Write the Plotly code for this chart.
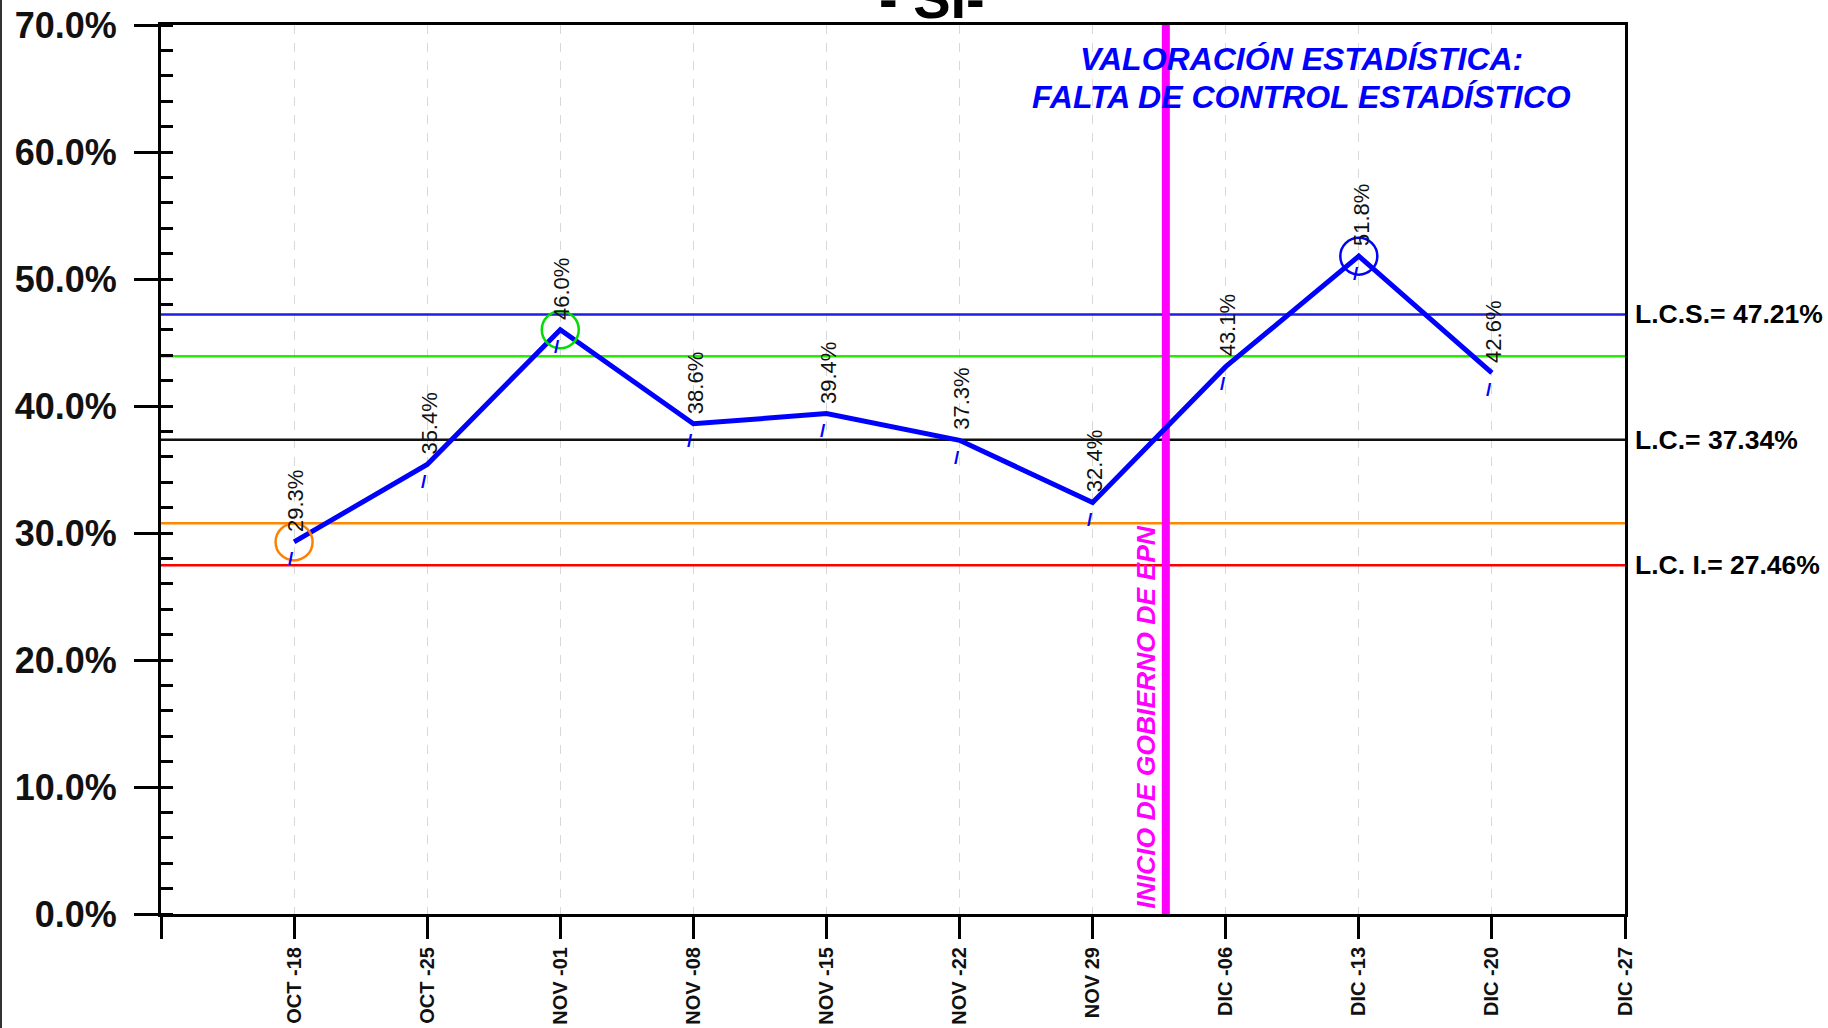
import plotly.graph_objects as go

semanas = ["OCT -18", "OCT -25", "NOV -01", "NOV -08", "NOV -15", "NOV -22",
           "NOV 29", "DIC -06", "DIC -13", "DIC -20", "DIC -27"]
porcentaje_si = [29.3, 35.4, 46.0, 38.6, 39.4, 37.3, 32.4, 43.1, 51.8, 42.6]

y_ticks = [0, 10, 20, 30, 40, 50, 60, 70]
y_ticktext = ["0.0%", "10.0%", "20.0%", "30.0%", "40.0%", "50.0%", "60.0%", "70.0%"]

lcs = 47.21
lc = 37.34
lci = 27.46
lim_sup_2s = 43.92
lim_inf_2s = 30.76

evento_x = 7.55  # inicio de gobierno, entre NOV 29 y DIC -06

# puntos marcados con circulo (indice en porcentaje_si, color)
marcados = [(0, "#FF8000"), (2, "#00DD00"), (8, "#0000FF")]

FONT = "Arial, Liberation Sans, sans-serif"

x_pos = list(range(1, len(semanas) + 1))
x_datos = x_pos[:len(porcentaje_si)]

fig = go.Figure()

# linea de datos
fig.add_trace(go.Scatter(
	x=x_datos,
	y=porcentaje_si,
	mode="lines",
	line=dict(color="#0000FF", width=5),
	hoverinfo="x+y"
))

# circulos
fig.add_trace(go.Scatter(
	x=[x_datos[i] for i, c in marcados],
	y=[porcentaje_si[i] for i, c in marcados],
	mode="markers",
	marker=dict(symbol="circle-open", size=37, color=[c for i, c in marcados],
		line=dict(width=2.5, color=[c for i, c in marcados])),
	hoverinfo="skip"
))

# lineas de control
limites = [
	(lcs, "#1E1EE0"),
	(lim_sup_2s, "#22EE00"),
	(lc, "#111111"),
	(lim_inf_2s, "#FF8800"),
	(lci, "#FF0000"),
]
for valor, color in limites:
	fig.add_shape(type="line", xref="x", yref="y", x0=0, x1=len(semanas), y0=valor, y1=valor,
		line=dict(color=color, width=2.5), layer="between")

# linea vertical del evento
fig.add_shape(type="line", xref="x", yref="y", x0=evento_x, x1=evento_x, y0=0, y1=70,
	line=dict(color="#FF00FF", width=8), layer="between")

# borde izquierdo de la imagen
fig.add_shape(type="line", xref="paper", yref="paper", x0=-160/1464, x1=-160/1464,
	y0=-114/889, y1=1 + 25/889, line=dict(color="#333333", width=2))

anotaciones = []

# etiquetas de valores
for x, v in zip(x_datos, porcentaje_si):
	anotaciones.append(dict(
		x=x, y=v, xref="x", yref="y", text="%.1f%%" % v, showarrow=False,
		textangle=-90, xanchor="center", yanchor="bottom", xshift=2, yshift=8,
		font=dict(family=FONT, size=22, color="#111111")
	))
	anotaciones.append(dict(
		x=x, y=v, xref="x", yref="y", text="/", showarrow=False,
		xanchor="center", yanchor="middle", xshift=-3, yshift=-17,
		font=dict(family=FONT, size=19, color="#0000FF", weight="bold")
	))

# etiquetas de limites a la derecha
etiquetas_lim = [(lcs, "L.C.S.= 47.21%"), (lc, "L.C.= 37.34%"), (lci, "L.C. I.= 27.46%")]
for valor, texto in etiquetas_lim:
	anotaciones.append(dict(
		x=1, y=valor, xref="paper", yref="y", text=texto, showarrow=False,
		xanchor="left", yanchor="middle", xshift=8,
		font=dict(family=FONT, size=26.5, color="#000000", weight="bold")
	))

# texto del evento
anotaciones.append(dict(
	x=evento_x, y=0, xref="x", yref="y", text="INICIO DE GOBIERNO DE EPN", showarrow=False,
	textangle=-90, xanchor="center", yanchor="bottom", xshift=-20, yshift=3,
	font=dict(family=FONT, size=26.5, color="#FF00FF", weight="bold", style="italic")
))

# valoracion
for texto, y in [("VALORACIÓN ESTADÍSTICA:", 67.3), ("FALTA DE CONTROL ESTADÍSTICO", 64.35)]:
	anotaciones.append(dict(
		x=8.57, y=y, xref="x", yref="y", text=texto, showarrow=False,
		xanchor="center", yanchor="middle",
		font=dict(family=FONT, size=32, color="#0000FF", weight="bold", style="italic")
	))

# titulo (cortado arriba)
anotaciones.append(dict(
	x=0.5266, y=1, xref="paper", yref="paper", text="- SI-", showarrow=False,
	xanchor="center", yanchor="bottom", yshift=-7,
	font=dict(family=FONT, size=56, color="#000000", weight="bold")
))

fig.update_layout(
	width=1828,
	height=1028,
	autosize=False,
	margin=dict(l=161, r=203, t=25, b=114, pad=0, autoexpand=False),
	paper_bgcolor="white",
	plot_bgcolor="white",
	showlegend=False,
	hovermode="closest",
	annotations=anotaciones,
	xaxis=dict(
		range=[0, len(semanas)],
		tickvals=[0] + x_pos,
		ticktext=[""] + semanas,
		tickangle=-90,
		ticks="outside",
		ticklen=22,
		tickwidth=3,
		tickcolor="black",
		ticklabelstandoff=0,
		tickfont=dict(family=FONT, size=20, color="#111111", weight="bold"),
		showline=True,
		linecolor="black",
		linewidth=3,
		mirror=True,
		showgrid=True,
		gridcolor="#d8d8d8",
		gridwidth=1,
		griddash="dash",
		zeroline=False,
		automargin=False,
	),
	yaxis=dict(
		range=[0, 70],
		tickvals=y_ticks,
		ticktext=y_ticktext,
		ticks="outside",
		ticklen=24,
		tickwidth=3,
		tickcolor="black",
		ticklabelstandoff=10,
		tickfont=dict(family=FONT, size=36, color="#111111", weight="bold"),
		minor=dict(dtick=2, ticks="inside", ticklen=12, tickwidth=3, tickcolor="black", showgrid=False),
		showline=True,
		linecolor="black",
		linewidth=3,
		mirror=True,
		showgrid=False,
		zeroline=False,
		automargin=False,
	),
)

# sin margen del body para que la figura ocupe toda la ventana
fig.write_html("out.html", config={"displayModeBar": False},
	post_script="document.body.style.margin = '0px';")
